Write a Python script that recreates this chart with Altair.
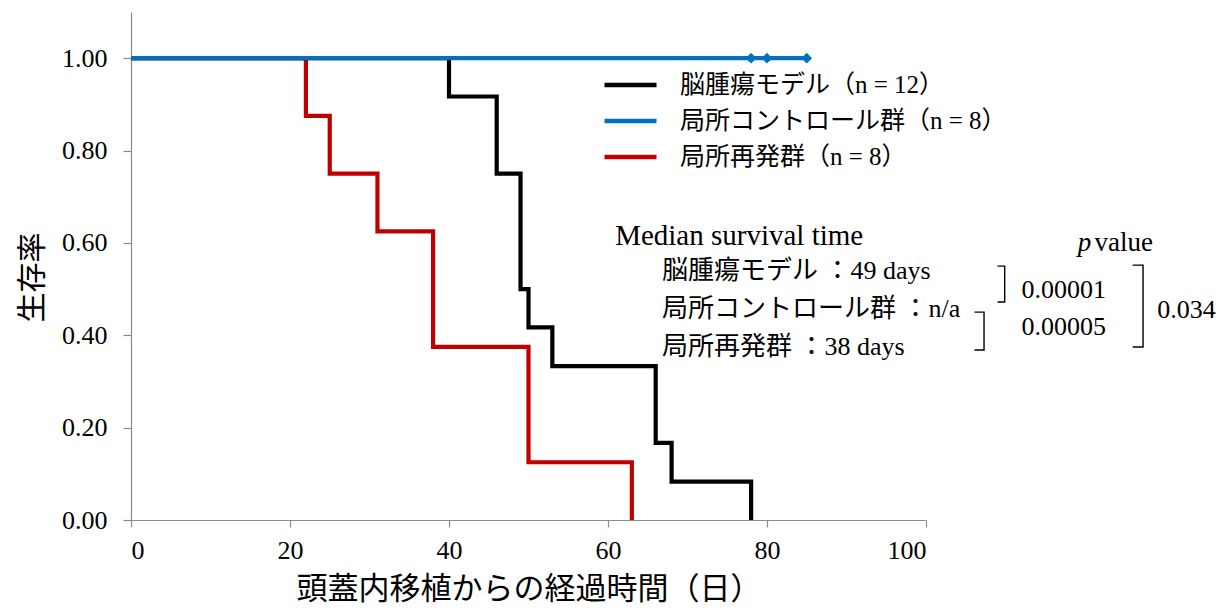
import altair as alt
import pandas as pd

FONT = "Liberation Serif, Noto Sans CJK JP"

# ---- survival curves (step points) ----
labels = ["脳腫瘍モデル（n = 12）", "局所コントロール群（n = 8）", "局所再発群（n = 8）"]
colors = ["#000000", "#0070C0", "#C00000"]

black_time = [0, 40, 46, 49, 50, 53, 66, 68, 78]
black_surv = [1.0, 0.917, 0.75, 0.5, 0.417, 0.333, 0.167, 0.083, 0.0]
blue_time = [0, 85]
blue_surv = [1.0, 1.0]
red_time = [0, 22, 25, 31, 38, 50, 63]
red_surv = [1.0, 0.875, 0.75, 0.625, 0.375, 0.125, 0.0]

censor_time = [78, 80, 85]
censor_surv = [1.0, 1.0, 1.0]

# ---- annotations ----
median_title = ["Median survival time"]
median_title_x = [60.9]
median_title_y = [0.615]
median_rows = ["脳腫瘍モデル ：49 days", "局所コントロール群 ：n/a", "局所再発群 ：38 days"]
median_rows_x = [66.8, 66.8, 66.8]
median_rows_y = [0.539, 0.457, 0.374]
p_label_x = [119.1]
value_label_x = [121.2]
p_label_y = [0.5996]
p_values = ["0.00001", "0.00005", "0.034"]
p_values_x = [112.0, 112.0, 129.1]
p_values_y = [0.498, 0.418, 0.4545]

# brackets: (id, x_left, x_right, y_top, y_bottom)
bracket_ids = ["a", "b", "c"]
bracket_xl = [109.0, 106.1, 126.0]
bracket_xr = [109.9, 107.3, 127.3]
bracket_top = [0.5498, 0.4502, 0.552]
bracket_bot = [0.4719, 0.368, 0.3745]

# ---- build tables ----
curves = pd.concat([
    pd.DataFrame({"t": black_time, "s": black_surv, "group": labels[0]}),
    pd.DataFrame({"t": blue_time, "s": blue_surv, "group": labels[1]}),
    pd.DataFrame({"t": red_time, "s": red_surv, "group": labels[2]}),
], ignore_index=True)

censor = pd.DataFrame({"t": censor_time, "s": censor_surv})

br_rows = []
for i, bid in enumerate(bracket_ids):
    pts = [(bracket_xl[i], bracket_top[i]), (bracket_xr[i], bracket_top[i]),
           (bracket_xr[i], bracket_bot[i]), (bracket_xl[i], bracket_bot[i])]
    for o, (xx, yy) in enumerate(pts):
        br_rows.append({"id": bid, "o": o, "t": xx, "s": yy})
brackets = pd.DataFrame(br_rows)

axis_color = "#8a8a8a"

x_enc = alt.X(
    "t:Q",
    scale=alt.Scale(domain=[0, 100], nice=False, zero=False),
    axis=alt.Axis(
        values=[0, 20, 40, 60, 80, 100], format="d", grid=False,
        title="頭蓋内移植からの経過時間（日）",
        titleFont=FONT, titleFontSize=31, titleFontWeight="normal", titleColor="#000000",
        titlePadding=11,
        labelFont=FONT, labelFontSize=26, labelColor="#000000", labelPadding=10,
        tickSize=7, tickColor=axis_color, domainColor=axis_color,
        domainWidth=1.2, tickWidth=1.2,
    ),
)
y_enc = alt.Y(
    "s:Q",
    scale=alt.Scale(domain=[0, 1.1], nice=False, zero=False),
    axis=alt.Axis(
        values=[0, 0.2, 0.4, 0.6, 0.8, 1.0], format=".2f", grid=False,
        title="生存率",
        titleFont=FONT, titleFontSize=30, titleFontWeight="normal", titleColor="#000000",
        titleX=-99, titleY=265, titleBaseline="middle", titleAngle=270,
        labelFont=FONT, labelFontSize=26, labelColor="#000000", labelPadding=16,
        tickSize=8, tickColor=axis_color, domainColor=axis_color,
        domainWidth=1.2, tickWidth=1.2,
    ),
)

color_enc = alt.Color(
    "group:N",
    scale=alt.Scale(domain=labels, range=colors),
    legend=alt.Legend(
        orient="none", legendX=471, legendY=55, title=None,
        symbolType="stroke", symbolSize=2704, symbolStrokeWidth=4.5,
        labelFont=FONT, labelFontSize=25, labelColor="#000000", labelLimit=0,
        clipHeight=36, rowPadding=0, labelOffset=21, padding=0,
    ),
)

base = alt.Chart(curves)


def curve_layer(lbl):
    return base.transform_filter(alt.datum.group == lbl).mark_line(
        interpolate="step-after", strokeWidth=4.2, strokeJoin="miter", strokeCap="butt"
    ).encode(x=x_enc, y=y_enc, color=color_enc)


lines = [curve_layer(labels[2]), curve_layer(labels[0]), curve_layer(labels[1])]

censor_layer = alt.Chart(censor).mark_point(
    shape="diamond", filled=True, size=115, color="#0070C0", opacity=1
).encode(x=x_enc, y=y_enc)

bracket_layer = alt.Chart(brackets).mark_line(
    color="#000000", strokeWidth=1.4, strokeJoin="miter"
).encode(x=x_enc, y=y_enc, detail="id:N", order="o:Q")

t_median_title = alt.Chart(pd.DataFrame({"t": median_title_x, "s": median_title_y, "label": median_title})).mark_text(
    font=FONT, fontSize=29, align="left", baseline="middle", color="#000000"
).encode(x=x_enc, y=y_enc, text="label:N")

t_rows = alt.Chart(pd.DataFrame({"t": median_rows_x, "s": median_rows_y, "label": median_rows})).mark_text(
    font=FONT, fontSize=26, align="left", baseline="middle", color="#000000"
).encode(x=x_enc, y=y_enc, text="label:N")

t_p = alt.Chart(pd.DataFrame({"t": p_label_x, "s": p_label_y, "label": ["p"]})).mark_text(
    font=FONT, fontSize=27, fontStyle="italic", align="left", baseline="middle", color="#000000"
).encode(x=x_enc, y=y_enc, text="label:N")

t_value = alt.Chart(pd.DataFrame({"t": value_label_x, "s": p_label_y, "label": ["value"]})).mark_text(
    font=FONT, fontSize=27, align="left", baseline="middle", color="#000000"
).encode(x=x_enc, y=y_enc, text="label:N")

t_pvals = alt.Chart(pd.DataFrame({"t": p_values_x, "s": p_values_y, "label": p_values})).mark_text(
    font=FONT, fontSize=26, align="left", baseline="middle", color="#000000"
).encode(x=x_enc, y=y_enc, text="label:N")

chart = alt.layer(
    *lines, censor_layer, bracket_layer, t_median_title, t_rows, t_p, t_value, t_pvals
).properties(
    width=795, height=508,
    autosize=alt.AutoSizeParams(type="none"),
    padding={"left": 131, "top": 12, "right": 306, "bottom": 91},
    background="#ffffff",
).configure_view(stroke=None)

chart.save("out.html", embed_options={"renderer": "svg", "actions": False})
